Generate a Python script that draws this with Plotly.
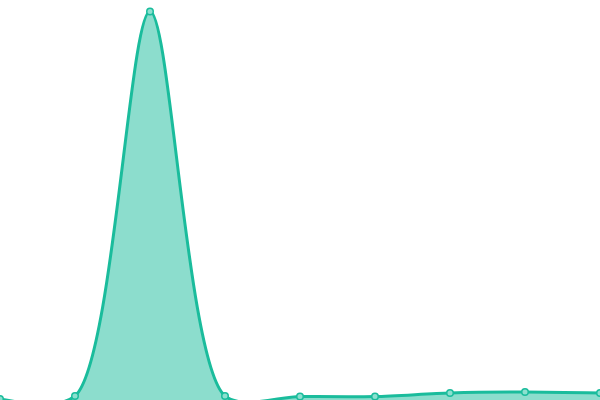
import plotly.graph_objects as go

# Series data
x_values = [0, 1, 2, 3, 4, 5, 6, 7, 8]
y_values = [1, 4, 388.5, 4, 3.5, 3.5, 7, 8, 7]

fig = go.Figure()

fig.add_trace(go.Scatter(
    x=x_values,
    y=y_values,
    mode='lines+markers',
    line=dict(color='#1abc9c', width=3, shape='spline', smoothing=0.8),
    fill='tozeroy',
    fillcolor='rgba(26,188,156,0.5)',
    marker=dict(size=6.5, color='#8ce0cf', line=dict(color='#1abc9c', width=1.5)),
    cliponaxis=True,
    hoverinfo='skip',
))

fig.update_layout(
    width=600,
    height=400,
    margin=dict(l=0, r=0, t=0, b=0),
    paper_bgcolor='white',
    plot_bgcolor='white',
    showlegend=False,
)
fig.update_xaxes(visible=False, range=[0, 8])
fig.update_yaxes(visible=False, range=[0, 400])

# drop the page's default body margin so the chart fills the window
fig.write_html(
    "out.html",
    config={'displayModeBar': False},
    post_script="document.body.style.margin='0';document.body.style.overflow='hidden';",
)
